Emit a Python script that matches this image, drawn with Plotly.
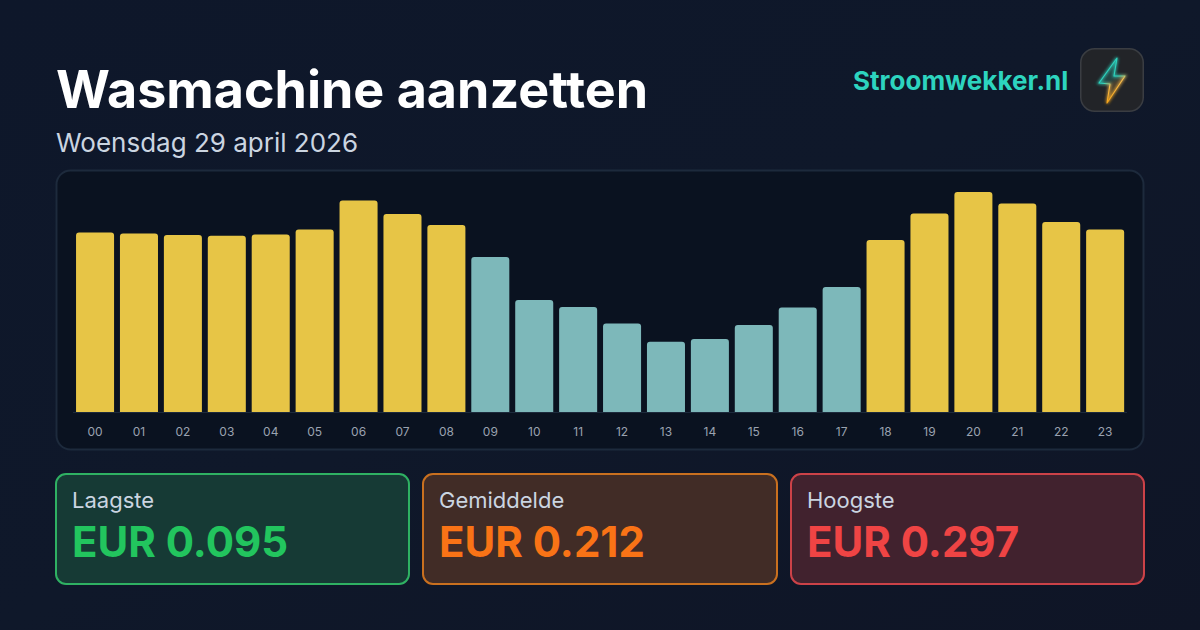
import base64
import plotly.graph_objects as go

hours = ["00","01","02","03","04","05","06","07","08","09","10","11","12","13","14","15","16","17","18","19","20","21","22","23"]
prices = [0.2423,0.2410,0.2390,0.2378,0.2396,0.2464,0.2855,0.2673,0.2525,0.2093,0.1512,0.1418,0.1195,0.0950,0.0986,0.1175,0.1410,0.1688,0.2322,0.2680,0.2970,0.2815,0.2565,0.2464]
bar_colors = ["#e7c546"]*9 + ["#7db8ba"]*9 + ["#e7c546"]*6
title_text = "Wasmachine aanzetten"
subtitle_text = "Woensdag 29 april 2026"
brand_text = "Stroomwekker.nl"
stat_labels = ["Laagste","Gemiddelde","Hoogste"]
stat_values = ["EUR 0.095","EUR 0.212","EUR 0.297"]
stat_text_colors = ["#22c55e","#f97316","#ef4444"]
stat_fills = ["#163a35","#412c26","#41222e"]
stat_borders = ["#2fb163","#c9701f","#cc4248"]
stat_boxes = [(56,409),(423,777),(791,1144)]

W, H = 1200, 630
px = lambda x: x / W
py = lambda y: 1 - y / H

def rrect(x0, y0, x1, y1, r):
    X = lambda v: f"{px(v):.5f}"
    Y = lambda v: f"{py(v):.5f}"
    k = 0.45 * r
    return (f"M{X(x0+r)},{Y(y0)} L{X(x1-r)},{Y(y0)} "
            f"C{X(x1-k)},{Y(y0)} {X(x1)},{Y(y0+k)} {X(x1)},{Y(y0+r)} "
            f"L{X(x1)},{Y(y1-r)} C{X(x1)},{Y(y1-k)} {X(x1-k)},{Y(y1)} {X(x1-r)},{Y(y1)} "
            f"L{X(x0+r)},{Y(y1)} C{X(x0+k)},{Y(y1)} {X(x0)},{Y(y1-k)} {X(x0)},{Y(y1-r)} "
            f"L{X(x0)},{Y(y0+r)} C{X(x0)},{Y(y0+k)} {X(x0+k)},{Y(y0)} {X(x0+r)},{Y(y0)} Z")

def uri(svg):
    return "data:image/svg+xml;base64," + base64.b64encode(svg.encode()).decode()

bg_svg = f'''<svg xmlns="http://www.w3.org/2000/svg" width="{W}" height="{H}">
<defs><linearGradient id="g" x1="0" y1="0" x2="1" y2="1">
<stop offset="0" stop-color="#0e172a"/><stop offset="0.5" stop-color="#0f182a"/><stop offset="1" stop-color="#0f1526"/>
</linearGradient></defs><rect width="{W}" height="{H}" fill="url(#g)"/></svg>'''

bolt = "M37 10 L19 35 L30 36 L27 55 L45 28 L34 28 Z"
icon_svg = f'''<svg xmlns="http://www.w3.org/2000/svg" width="64" height="64" viewBox="0 0 64 64">
<defs><linearGradient id="b" x1="0.3" y1="0" x2="0.6" y2="1">
<stop offset="0" stop-color="#2dd4bf"/><stop offset="0.48" stop-color="#2dd4bf"/><stop offset="0.6" stop-color="#fbbf50"/><stop offset="1" stop-color="#f59e0b"/>
</linearGradient><filter id="f" x="-50%" y="-50%" width="200%" height="200%"><feGaussianBlur stdDeviation="1.8"/></filter></defs>
<rect x="0.75" y="0.75" width="62.5" height="62.5" rx="14" fill="#222428" stroke="#3a3d42" stroke-width="1.5"/>
<path d="{bolt}" fill="none" stroke="url(#b)" stroke-width="2.5" filter="url(#f)" opacity="0.8"/>
<path d="{bolt}" fill="url(#b)" fill-opacity="0.18" stroke="url(#b)" stroke-width="1.1" stroke-linejoin="round"/></svg>'''

fig = go.Figure(go.Bar(x=hours, y=prices, marker=dict(color=bar_colors, line=dict(width=0), cornerradius=3),
                       hoverinfo="skip"))

shapes = [dict(type="path", path=rrect(56.5,170.5,1143.5,449.5,14), xref="paper", yref="paper",
               fillcolor="#0a1220", line=dict(color="#1d2a3c", width=2), layer="below")]
for (x0,x1),f,b in zip(stat_boxes, stat_fills, stat_borders):
    shapes.append(dict(type="path", path=rrect(x0,474,x1,584,10), xref="paper", yref="paper",
                       fillcolor=f, line=dict(color=b, width=2), layer="below"))

def text(x, y, s, size, color, weight=400, anchor="left"):
    return dict(x=px(x), y=py(y), xref="paper", yref="paper", text=s, showarrow=False, xanchor=anchor, yanchor="middle",
                borderpad=0, borderwidth=0, font=dict(family="Inter", size=size, color=color, weight=weight))

ann = [text(56,90,title_text,52,"#ffffff",700),
       text(56,143,subtitle_text,26,"#cbd5e1"),
       text(1068,81,brand_text,26,"#2dd4bf",700,"right")]
for (x0,x1),l,v,c in zip(stat_boxes, stat_labels, stat_values, stat_text_colors):
    ann.append(text(x0+16,500,l,22,"#cbd5e1"))
    ann.append(text(x0+16,541,v,42,c,700))

fig.update_layout(
    width=W, height=H, margin=dict(l=0,r=0,t=0,b=0), showlegend=False, bargap=0.134,
    paper_bgcolor="#0f172a", plot_bgcolor="rgba(0,0,0,0)", shapes=shapes, annotations=ann,
    images=[dict(source=uri(bg_svg), xref="paper", yref="paper", x=0, y=1, sizex=1, sizey=1,
                 xanchor="left", yanchor="top", sizing="stretch", layer="below"),
            dict(source=uri(icon_svg), xref="paper", yref="paper", x=px(1080), y=py(48), sizex=64/W, sizey=64/H,
                 xanchor="left", yanchor="top", sizing="stretch", layer="above")],
    xaxis=dict(domain=[px(73.1),px(1127.1)], type="category", showgrid=False, zeroline=False, showline=True,
               linecolor="#1d2a3c", linewidth=1, ticks="outside", ticklen=9, tickcolor="rgba(0,0,0,0)",
               tickfont=dict(family="Inter", size=12, color="#9aa2b0")),
    yaxis=dict(domain=[py(412),py(192)], range=[0,0.297], visible=False),
)
fig.write_html("out.html", config={"displayModeBar":False},
               post_script="document.body.style.margin='0';document.documentElement.style.overflow='hidden';")
